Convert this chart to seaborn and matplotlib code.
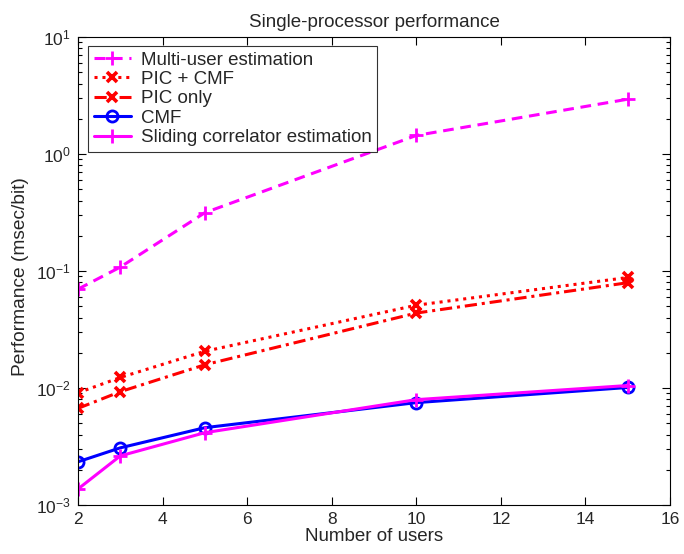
import matplotlib
matplotlib.use("Agg")
import matplotlib.pyplot as plt
import seaborn as sns
import numpy as np
from matplotlib.ticker import LogLocator, FixedLocator

# Number of users
users = [2, 3, 5, 10, 15]

# Performance (msec/bit) per method
multi_user = [0.070, 0.108, 0.315, 1.44, 2.94]
pic_cmf = [0.0091, 0.0123, 0.0206, 0.051, 0.088]
pic_only = [0.0067, 0.0093, 0.0158, 0.0437, 0.0794]
cmf = [0.00234, 0.00308, 0.00458, 0.0075, 0.0101]
sliding = [0.00137, 0.00263, 0.00415, 0.00795, 0.0105]

x_ticks = [2, 4, 6, 8, 10, 12, 14, 16]

sns.set_style("ticks")
plt.rcParams["font.family"] = ["Liberation Sans", "DejaVu Sans"]
plt.rcParams["mathtext.fontset"] = "custom"
plt.rcParams["mathtext.rm"] = "Liberation Sans"
plt.rcParams["mathtext.it"] = "Liberation Sans"
plt.rcParams["mathtext.default"] = "regular"

fig = plt.figure(figsize=(6.84, 5.54), dpi=100)
ax = fig.add_axes([78 / 684, 1 - 505 / 554, 592 / 684, 468 / 554])

lw = 2.2
series = [
    ("Multi-user estimation", multi_user, "#FF00FF", (0, (3.5, 2.2)), "+", 10, 2.0),
    ("PIC + CMF", pic_cmf, "#FF0000", (0, (1, 1.6)), "x", 7, 2.6),
    ("PIC only", pic_only, "#FF0000", (0, (4, 1.6, 1, 1.6)), "x", 7, 2.6),
    ("CMF", cmf, "#0000FF", "-", "o", 8, 2.0),
    ("Sliding correlator estimation", sliding, "#FF00FF", "-", "+", 10, 2.0),
]

for label, vals, color, ls, mk, ms, mew in series:
    sns.lineplot(
        x=users, y=vals, ax=ax, label=label, color=color,
        linestyle=ls, linewidth=lw, marker=mk, markersize=ms,
        markeredgewidth=mew, markerfacecolor="none", markeredgecolor=color,
    )

ax.set_yscale("log")
ax.set_xlim(2, 16)
ax.set_ylim(1e-3, 1e1)
ax.xaxis.set_major_locator(FixedLocator(x_ticks))
ax.yaxis.set_major_locator(LogLocator(base=10, numticks=10))
ax.yaxis.set_minor_locator(LogLocator(base=10, subs=np.arange(2, 10), numticks=20))

ax.tick_params(which="both", direction="in", top=True, right=True,
               labelsize=12.5, width=0.8, color="black")
ax.tick_params(which="major", length=6, pad=5)
ax.tick_params(which="minor", length=3)
for sp in ax.spines.values():
    sp.set_linewidth(0.8)
    sp.set_color("black")

ax.set_title("Single-processor performance", fontsize=13.5, pad=7)
ax.set_xlabel("Number of users", fontsize=13.5, labelpad=1)
ax.set_ylabel("Performance (msec/bit)", fontsize=13.8, labelpad=3)
ax.yaxis.set_label_coords(-0.083, 0.488)

leg = ax.legend(loc="upper left", bbox_to_anchor=(0.017, 0.981),
                borderaxespad=0, fontsize=13.5, frameon=True, fancybox=False,
                edgecolor="black", handlelength=2.0, handletextpad=0.5,
                labelspacing=0.12, borderpad=0.3)
leg.get_frame().set_linewidth(0.8)

fig.savefig("out.png", dpi=100, facecolor="white")
